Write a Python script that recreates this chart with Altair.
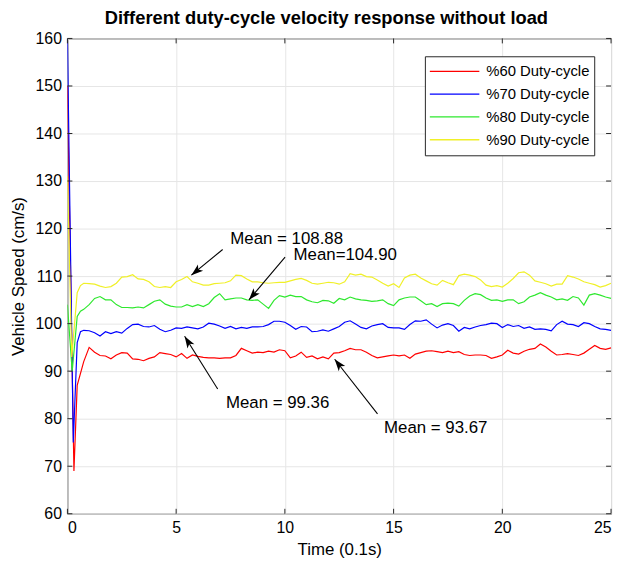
import math
import altair as alt
import pandas as pd

# ---------------- data ----------------
series_names = ["%60 Duty-cycle", "%70 Duty-cycle", "%80 Duty-cycle", "%90 Duty-cycle"]
series_colors = ["#ff0000", "#0000ff", "#2ee82e", "#f0f028"]

# start-up transients (time in 0.1 s, speed in cm/s)
t_start_60 = [0, 0.3, 0.45]
v_start_60 = [150, 69, 87]
t_start_70 = [0, 0.27, 0.45, 0.6]
v_start_70 = [160, 75, 96, 98.3]
t_start_80 = [0, 0.22, 0.45, 0.6]
v_start_80 = [104, 90, 101.5, 102.6]
t_start_90 = [0, 0.2, 0.45, 0.6]
v_start_90 = [131, 93, 106.5, 108]

# steady part, sampled every 0.25 from 0.75 to 25
t_steady = [0.75 + 0.25 * i for i in range(98)]

v_60 = [92.0, 95.0, 94.0, 93.3, 93.2, 92.6, 93.4, 93.9, 93.8, 92.6, 92.5, 92.2, 92.7, 93.0, 93.9, 93.7, 93.5, 93.0,
        93.7, 92.7, 93.4, 93.1, 92.9, 92.8, 92.8, 92.7, 92.8, 92.8, 93.3, 94.8, 94.3, 93.8, 94.0, 93.9, 94.2, 94.0, 94.5, 94.3,
        92.8, 93.2, 94.0, 92.9, 93.2, 92.6, 93.0, 92.6, 93.8, 93.9, 94.3, 94.8, 94.5, 94.5, 94.0, 93.3, 92.8, 93.0, 93.2, 93.4,
        93.2, 93.4, 92.7, 93.6, 93.9, 94.2, 94.3, 94.1, 93.9, 94.2, 93.9, 94.1, 93.5, 93.3, 93.4, 93.4, 93.3, 92.7, 93.0, 93.4,
        94.4, 93.8, 93.6, 94.2, 94.6, 94.8, 95.7, 95.1, 94.2, 93.4, 93.5, 93.7, 93.5, 93.3, 93.8, 94.6, 95.4, 94.8, 94.6, 94.9]

v_70 = [98.6, 98.5, 98.1, 97.4, 98.3, 97.9, 98.3, 98.0, 99.0, 99.8, 99.9, 99.4, 99.3, 99.6, 98.8, 98.3, 98.6, 99.1,
        99.0, 99.3, 99.1, 98.9, 99.3, 100.1, 99.9, 99.5, 99.0, 99.4, 98.9, 99.2, 99.0, 99.3, 99.3, 99.4, 99.8, 100.5, 100.5, 100.3,
        99.6, 98.8, 99.4, 99.3, 98.3, 98.4, 98.7, 98.4, 98.9, 99.4, 100.3, 100.6, 99.9, 99.2, 98.9, 99.5, 99.8, 100.0, 99.2, 99.1,
        99.1, 98.8, 99.8, 100.6, 100.5, 100.8, 99.9, 99.1, 99.7, 100.0, 99.6, 98.4, 99.2, 98.9, 99.3, 99.6, 99.8, 100.1, 100.0, 99.2,
        99.8, 99.4, 99.6, 99.0, 99.3, 98.8, 98.9, 98.8, 98.5, 99.8, 100.5, 99.9, 99.8, 99.4, 100.2, 100.0, 99.4, 98.9, 98.8, 98.6]

v_80 = [103.0, 104.0, 105.3, 105.7, 105.0, 105.0, 104.0, 103.4, 103.4, 103.3, 103.5, 103.3, 104.0, 104.7, 105.0, 104.1, 103.7, 103.5,
        103.5, 104.0, 103.6, 104.0, 103.6, 104.2, 105.5, 106.3, 105.0, 105.2, 105.4, 105.4, 105.0, 104.9, 105.0, 104.1, 103.2, 104.9, 105.9, 105.6,
        106.0, 105.7, 105.7, 105.0, 104.6, 104.4, 104.9, 104.8, 104.3, 105.3, 105.0, 105.6, 105.2, 105.0, 104.9, 104.7, 104.8, 105.0, 104.2, 103.8,
        105.0, 105.4, 105.6, 105.6, 104.8, 104.0, 104.2, 103.6, 104.2, 104.3, 104.2, 103.7, 104.9, 105.8, 106.3, 106.1, 105.4, 104.9, 105.0, 104.7,
        105.0, 105.0, 104.2, 104.6, 105.6, 106.0, 106.5, 106.0, 105.6, 105.0, 105.2, 104.9, 105.7, 105.4, 103.9, 106.0, 106.3, 106.0, 105.6, 105.3]

v_90 = [108.5, 108.4, 108.3, 107.9, 107.6, 107.8, 108.5, 109.8, 109.9, 110.3, 109.4, 109.3, 108.8, 107.8, 107.6, 107.8, 107.6, 108.8,
        109.3, 109.9, 108.8, 108.5, 108.1, 108.1, 108.4, 108.5, 108.6, 109.0, 110.2, 110.1, 109.4, 108.8, 108.8, 108.6, 108.5, 108.6, 108.7, 108.7,
        109.0, 109.3, 109.5, 109.1, 108.5, 108.3, 108.5, 108.7, 108.6, 108.3, 108.8, 110.5, 110.2, 110.4, 109.9, 109.8, 109.2, 108.5, 107.9, 108.4,
        107.6, 109.6, 110.2, 110.4, 109.6, 109.0, 108.4, 108.1, 109.1, 108.6, 108.2, 110.1, 110.4, 110.2, 109.9, 109.2, 108.1, 107.8, 108.0, 107.7,
        108.5, 109.5, 110.7, 110.9, 110.2, 109.0, 108.7, 108.4, 107.9, 108.3, 108.3, 110.1, 109.8, 109.4, 108.8, 108.5, 108.2, 107.7, 108.0, 108.5]

# annotations: text, text anchor (left edge), arrow tail and arrow head
ann_text = ["Mean = 108.88", "Mean=104.90", "Mean = 99.36", "Mean = 93.67"]
ann_text_t = [7.49, 10.4, 7.29, 14.56]
ann_text_v = [117.7, 114.5, 83.3, 78.1]
arrow_tail_t = [7.14, 10.01, 6.91, 14.26]
arrow_tail_v = [115.6, 114.0, 86.25, 81.0]
arrow_head_t = [5.70, 8.35, 5.39, 12.29]
arrow_head_v = [110.2, 105.0, 97.35, 92.5]

y_ticks = list(range(60, 161, 10))
x_ticks = [0, 5, 10, 15, 20, 25]

# ---------------- layout ----------------
W, H = 549, 480
X_DOM, Y_DOM = (0, 25), (60, 160)
FONT = "Liberation Sans"
INK = "#262626"

rows = []
starts = [(t_start_60, v_start_60), (t_start_70, v_start_70), (t_start_80, v_start_80), (t_start_90, v_start_90)]
steadies = [v_60, v_70, v_80, v_90]
for k, name in enumerate(series_names):
    ts, vs = starts[k]
    for t, v in zip(ts, vs):
        rows.append({"t": t, "v": v, "s": name, "o": k})
    for t, v in zip(t_steady, steadies[k]):
        rows.append({"t": t, "v": v, "s": name, "o": k})
df = pd.DataFrame(rows)

ann = pd.DataFrame({"text": ann_text, "tt": ann_text_t, "tv": ann_text_v,
                    "t0": arrow_tail_t, "v0": arrow_tail_v, "t1": arrow_head_t, "v1": arrow_head_v})
sx = W / (X_DOM[1] - X_DOM[0])
sy = H / (Y_DOM[1] - Y_DOM[0])
ann["angle"] = [
    math.degrees(math.atan2((h_t - a_t) * sx, (h_v - a_v) * sy)) % 360
    for a_t, a_v, h_t, h_v in zip(arrow_tail_t, arrow_tail_v, arrow_head_t, arrow_head_v)
]

xs = alt.Scale(domain=list(X_DOM), nice=False, zero=False)
ys = alt.Scale(domain=list(Y_DOM), nice=False, zero=False)

lines = alt.Chart(df).mark_line(strokeWidth=1.2, clip=True).encode(
    x=alt.X("t:Q", scale=xs,
            axis=alt.Axis(values=x_ticks, title="Time (0.1s)", grid=True, ticks=False, domain=False,
                          labelPadding=6, titlePadding=6, format="d")),
    y=alt.Y("v:Q", scale=ys,
            axis=alt.Axis(values=y_ticks, title="Vehicle Speed (cm/s)", grid=True, ticks=False, domain=False,
                          labelPadding=6, titlePadding=8, format="d")),
    color=alt.Color("s:N", scale=alt.Scale(domain=series_names, range=series_colors),
                    legend=alt.Legend(title=None, orient="none", legendX=361, legendY=18,
                                      symbolType="stroke", symbolSize=2500, symbolStrokeWidth=1.4,
                                      clipHeight=22.5, labelFontSize=15, labelFont=FONT, labelColor="black",
                                      labelOffset=6, padding=4, strokeColor=INK, fillColor="white",
                                      cornerRadius=0, rowPadding=0)),
    order="o:Q",
    detail="s:N",
)

tick_df = pd.DataFrame({"y": y_ticks})
xtick_df = pd.DataFrame({"x": x_ticks})
yl = alt.Chart(tick_df).mark_rule(color=INK, strokeWidth=1).encode(
    y=alt.Y("y:Q", scale=ys), x=alt.value(0), x2=alt.value(5))
yr = alt.Chart(tick_df).mark_rule(color=INK, strokeWidth=1).encode(
    y=alt.Y("y:Q", scale=ys), x=alt.value(W - 5), x2=alt.value(W))
xb = alt.Chart(xtick_df).mark_rule(color=INK, strokeWidth=1).encode(
    x=alt.X("x:Q", scale=xs), y=alt.value(H - 5), y2=alt.value(H))
xt = alt.Chart(xtick_df).mark_rule(color=INK, strokeWidth=1).encode(
    x=alt.X("x:Q", scale=xs), y=alt.value(0), y2=alt.value(5))

shafts = alt.Chart(ann).mark_rule(color="black", strokeWidth=1.1).encode(
    x=alt.X("t0:Q", scale=xs), y=alt.Y("v0:Q", scale=ys),
    x2="t1:Q", y2="v1:Q")
heads = alt.Chart(ann).mark_point(
    shape="M0,0 L0.55,1.6 L0,1.2 L-0.55,1.6 Z", filled=True, color="black", opacity=1, size=225
).encode(x=alt.X("t1:Q", scale=xs), y=alt.Y("v1:Q", scale=ys), angle=alt.Angle("angle:Q", scale=None))
labels = alt.Chart(ann).mark_text(align="left", baseline="middle", fontSize=17, font=FONT, color="black").encode(
    x=alt.X("tt:Q", scale=xs), y=alt.Y("tv:Q", scale=ys), text="text:N")

chart = alt.layer(lines, yl, yr, xb, xt, shafts, heads, labels).properties(
    width=W, height=H,
    padding={"left": 60, "top": 28, "right": 5, "bottom": 50},
    autosize=alt.AutoSizeParams(type="none"),
    background="white",
    title=alt.Title("Different duty-cycle velocity response without load", fontSize=18.5, fontWeight="bold",
                    font=FONT, color="black", anchor="middle", dx=-13, offset=3),
).configure_view(stroke=INK, strokeWidth=1).configure_axis(
    labelFont=FONT, titleFont=FONT, labelFontSize=16, titleFontSize=17, labelColor="black", titleColor="black",
    titleFontWeight="normal", gridColor="#e6e6e6", gridWidth=1
)

chart.save("out.html", embed_options={"renderer": "svg", "actions": False})
